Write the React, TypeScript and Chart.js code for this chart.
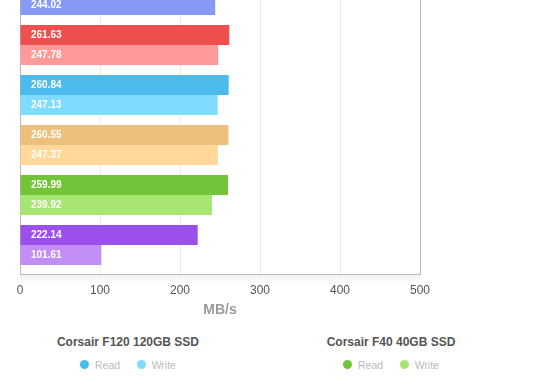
import React, { useEffect, useRef } from "react";
import { Chart, registerables } from "chart.js";

Chart.register(...registerables);

// ---- data ----
const drives = [
  "SSD A",
  "SSD B",
  "Corsair F120 120GB SSD",
  "SSD D",
  "Corsair F40 40GB SSD",
  "SSD F",
];
// first read bar lies above the visible area (not readable)
const readValues: (number | null)[] = [null, 261.63, 260.84, 260.55, 259.99, 222.14];
const writeValues: (number | null)[] = [244.02, 247.78, 247.13, 247.37, 239.92, 101.61];
const readColors = ["#5b78f0", "#ee5050", "#4cbaeb", "#edc07b", "#74c43a", "#9b50eb"];
const writeColors = ["#8599f5", "#ff9a9a", "#7fdbff", "#ffd89a", "#a8e673", "#c28df5"];
const xTicks = [0, 100, 200, 300, 400, 500];
const axisTitle = "MB/s";
const seriesNames = ["Read", "Write"];
const legendDrives = [2, 4];

const FONT = '"Liberation Sans", Arial, Helvetica, sans-serif';
const BORDER = "#b9b9b9";
const GRID = "#ebebeb";

function buildDataset(label: string, values: (number | null)[], colors: string[]) {
  const pts = values
    .map((v, i) => ({ v, i }))
    .filter((p) => p.v !== null && p.v !== undefined);
  return {
    label,
    data: pts.map((p) => ({ x: p.v as number, y: p.i })),
    backgroundColor: pts.map((p) => colors[p.i]),
    borderWidth: 0,
    categoryPercentage: 0.8,
    barPercentage: 1,
  };
}

const labelPlugin = {
  id: "barValueLabels",
  afterDatasetsDraw(chart: any) {
    const { ctx, chartArea } = chart;
    ctx.save();
    ctx.font = `bold 10px ${FONT}`;
    ctx.fillStyle = "#ffffff";
    ctx.textAlign = "left";
    ctx.textBaseline = "middle";
    chart.data.datasets.forEach((ds: any, di: number) => {
      const meta = chart.getDatasetMeta(di);
      meta.data.forEach((bar: any, j: number) => {
        const v = ds.data[j].x;
        ctx.fillText(v.toFixed(2), chartArea.left + 11, bar.y + 0.5);
      });
    });
    ctx.restore();
  },
};

const shadowPlugin = {
  id: "plotShadow",
  afterDraw(chart: any) {
    const { ctx, chartArea } = chart;
    const y0 = chartArea.bottom + 1;
    const g = ctx.createLinearGradient(0, y0, 0, y0 + 10);
    g.addColorStop(0, "rgba(0,0,0,0.05)");
    g.addColorStop(1, "rgba(0,0,0,0)");
    ctx.save();
    ctx.fillStyle = g;
    ctx.fillRect(chartArea.left + 1, y0, chartArea.right - chartArea.left - 1, 10);
    ctx.restore();
  },
};

function BarChart() {
  const ref = useRef<HTMLCanvasElement | null>(null);
  useEffect(() => {
    if (!ref.current) return;
    const chart = new Chart(ref.current, {
      type: "bar",
      data: {
        datasets: [
          buildDataset(seriesNames[0], readValues, readColors),
          buildDataset(seriesNames[1], writeValues, writeColors),
        ] as any,
      },
      options: {
        indexAxis: "y",
        animation: false,
        responsive: false,
        devicePixelRatio: 1,
        layout: { padding: { top: 10, left: 20, right: 140, bottom: 0 } },
        plugins: {
          legend: { display: false },
          tooltip: { enabled: false },
        },
        scales: {
          x: {
            type: "linear",
            position: "bottom",
            min: 0,
            max: 500,
            afterBuildTicks: (s: any) => {
              s.ticks = xTicks.map((v) => ({ value: v }));
            },
            grid: {
              color: (c: any) => (c.tick && c.tick.value === 500 ? BORDER : GRID),
              drawTicks: false,
              lineWidth: 1,
            },
            border: { display: true, color: BORDER, width: 1 },
            ticks: {
              padding: 9,
              color: "#555",
              font: { family: FONT, size: 12 },
              maxRotation: 0,
            },
            title: {
              display: true,
              text: axisTitle,
              color: "#9a9a9a",
              font: { family: FONT, size: 14, weight: "bold" },
              padding: { top: 0, bottom: 15.6 },
            },
            afterFit: (s: any) => {
              s.height = 60;
            },
          },
          y: {
            type: "linear",
            reverse: true,
            min: -0.7,
            max: 5.58,
            offset: false,
            afterBuildTicks: (s: any) => {
              s.ticks = drives.map((_, i) => ({ value: i }));
            },
            ticks: { display: false },
            grid: { display: false },
            border: { display: true, color: BORDER, width: 1 },
            afterFit: (s: any) => {
              s.width = 0;
            },
          },
        },
      } as any,
      plugins: [labelPlugin, shadowPlugin],
    });
    return () => chart.destroy();
  }, []);
  return (
    <canvas
      ref={ref}
      width={560}
      height={384}
      style={{ position: "absolute", left: 0, top: -50, width: 560, height: 384 }}
    />
  );
}

function LegendBlock({ idx, left }: { idx: number; left: number }) {
  return (
    <>
      <div
        style={{
          position: "absolute",
          left,
          top: 334,
          width: 256,
          textAlign: "center",
          fontFamily: FONT,
          fontWeight: "bold",
          fontSize: 12,
          lineHeight: "16px",
          color: "#555",
          whiteSpace: "nowrap",
        }}
      >
        {drives[idx]}
      </div>
      <div
        style={{
          position: "absolute",
          left,
          top: 356.6,
          width: 256,
          height: 16,
          display: "flex",
          justifyContent: "center",
          alignItems: "center",
          fontFamily: FONT,
          fontSize: 10.5,
          color: "#bbb",
        }}
      >
        {[readColors[idx], writeColors[idx]].map((c, k) => (
          <div
            key={k}
            style={{ display: "flex", alignItems: "center", marginLeft: k ? 16.5 : 0 }}
          >
            <span
              style={{
                display: "inline-block",
                width: 9,
                height: 9,
                borderRadius: "50%",
                background: c,
              }}
            />
            <span style={{ marginLeft: 6, lineHeight: "16px" }}>{seriesNames[k]}</span>
          </div>
        ))}
      </div>
    </>
  );
}

export default function App() {
  return (
    <div
      style={{
        position: "fixed",
        left: 0,
        top: 0,
        width: 560,
        height: 390,
        overflow: "hidden",
        background: "#fff",
      }}
    >
      <BarChart />
      <LegendBlock idx={legendDrives[0]} left={0} />
      <LegendBlock idx={legendDrives[1]} left={263} />
    </div>
  );
}
